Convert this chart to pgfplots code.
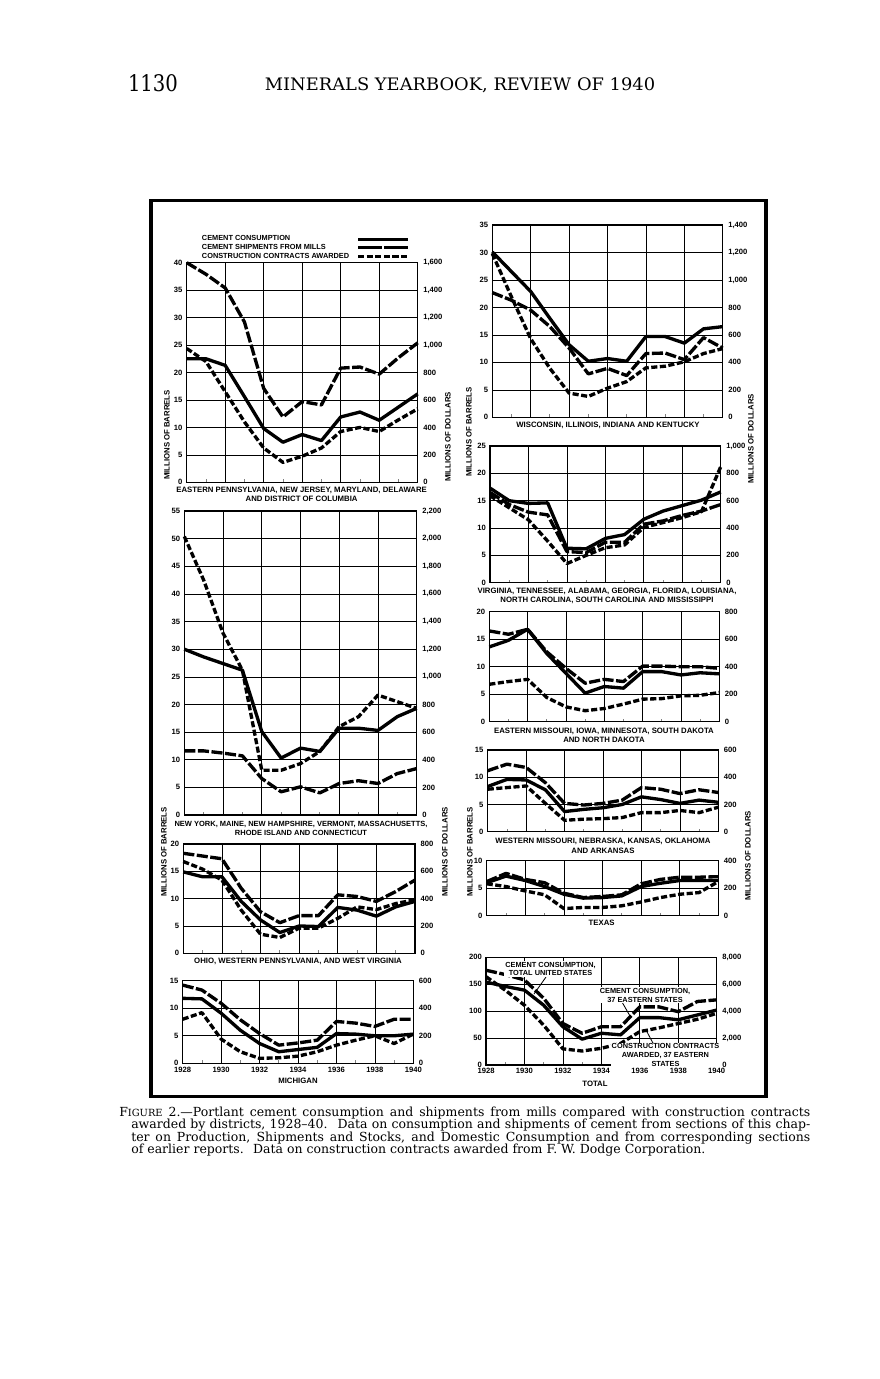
\documentclass[border=0pt]{standalone}
\usepackage{fontspec}
\setmainfont{DejaVu Serif}
\setsansfont{Liberation Sans}
\usepackage{graphicx}
\usepackage{pgfplots}
\usepackage{pgfplotstable}
\pgfplotsset{compat=1.18}

% chart lettering
\newcommand\cf{\sffamily\bfseries\fontsize{5.6}{6.5}\selectfont}
\newcommand\lf{\sffamily\bfseries\fontsize{5.3}{6.4}\selectfont}
\newcommand\tf{\sffamily\bfseries\fontsize{5.5}{5.5}\selectfont}

% year, cement consumption, shipments from mills (millions of barrels), contracts awarded (millions of dollars)
\pgfplotstableread{
year cons ship contr
1928 22.5 40.0 975
1929 22.5 37.9 880
1930 21.3 35.4 660
1931 15.6 29.2 440
1932 9.8 17.1 250
1933 7.3 11.9 145
1934 8.7 14.7 190
1935 7.6 14.1 250
1936 11.9 20.8 370
1937 12.8 21.0 400
1938 11.3 19.7 370
1939 13.7 22.7 455
1940 16.1 25.4 535
}\tEPA
\pgfplotstableread{
year cons ship contr
1928 30.0 11.6 2016
1929 28.6 11.6 1700
1930 27.4 11.2 1316
1931 26.2 10.7 1048
1932 15.1 6.6 324
1933 10.3 4.2 324
1934 12.1 5.1 372
1935 11.5 4.0 460
1936 15.7 5.7 640
1937 15.7 6.2 712
1938 15.3 5.7 868
1939 17.8 7.5 820
1940 19.3 8.4 772
}\tNY
\pgfplotstableread{
year cons ship contr
1928 14.9 18.3 672
1929 14.0 17.8 616
1930 14.0 17.3 536
1931 9.5 11.9 316
1932 6.1 7.6 140
1933 3.8 5.6 116
1934 5.0 6.9 184
1935 4.9 6.9 184
1936 8.4 10.7 256
1937 7.9 10.4 340
1938 6.8 9.5 320
1939 8.5 11.3 364
1940 9.5 13.4 392
}\tOH
\pgfplotstableread{
year cons ship contr
1928 11.8 14.2 320
1929 11.7 13.3 368
1930 9.1 10.9 176
1931 6.0 7.9 84
1932 3.6 5.4 36
1933 2.1 3.3 40
1934 2.5 3.7 52
1935 2.9 4.2 84
1936 5.4 7.6 132
1937 5.3 7.3 168
1938 5.0 6.7 200
1939 5.0 8.0 144
1940 5.3 8.0 212
}\tMI
\pgfplotstableread{
year cons ship contr
1928 30.1 22.7 1192
1929 26.5 21.3 876
1930 22.9 19.5 572
1931 18.0 16.5 356
1932 13.2 12.6 176
1933 10.2 7.9 152
1934 10.7 8.9 212
1935 10.2 7.6 260
1936 14.7 11.6 360
1937 14.7 11.7 372
1938 13.5 10.5 404
1939 16.1 14.5 464
1940 16.5 12.6 500
}\tWI
\pgfplotstableread{
year cons ship contr
1928 17.3 16.5 636
1929 15.0 14.3 548
1930 14.5 12.9 460
1931 14.6 12.4 304
1932 6.3 5.7 140
1933 6.2 5.5 200
1934 8.1 7.4 256
1935 8.8 7.4 276
1936 11.6 10.7 404
1937 13.1 11.3 440
1938 14.1 12.3 476
1939 15.1 13.1 520
1940 16.6 14.3 848
}\tVA
\pgfplotstableread{
year cons ship contr
1928 13.6 16.5 272
1929 14.8 15.9 292
1930 16.8 16.8 308
1931 12.4 12.7 176
1932 8.8 9.7 108
1933 5.2 7.0 80
1934 6.4 7.7 96
1935 6.1 7.3 128
1936 9.1 10.1 164
1937 9.1 10.1 168
1938 8.5 10.0 188
1939 8.9 10.0 192
1940 8.7 9.7 212
}\tEM
\pgfplotstableread{
year cons ship contr
1928 8.3 11.2 312
1929 9.6 12.4 324
1930 9.5 11.8 336
1931 7.7 9.0 208
1932 3.7 5.2 84
1933 4.1 4.9 92
1934 4.4 5.2 96
1935 5.0 5.8 104
1936 6.4 8.1 140
1937 5.9 7.8 140
1938 5.2 7.0 156
1939 5.8 7.7 140
1940 5.4 7.2 180
}\tWM
\pgfplotstableread{
year cons ship contr
1928 6.0 6.2 232
1929 7.2 7.7 212
1930 6.4 6.6 180
1931 5.3 6.0 152
1932 3.9 4.1 52
1933 3.2 3.3 60
1934 3.3 3.5 60
1935 3.6 3.8 72
1936 5.3 5.8 100
1937 5.9 6.6 132
1938 6.4 7.0 156
1939 6.4 7.0 168
1940 6.4 7.1 248
}\tTX
% total: cons = 37 eastern states, ship = total United States consumption
\pgfplotstableread{
year cons ship contr
1928 154 176 6560
1929 146 168 5560
1930 139 158 4440
1931 111 124 2960
1932 71 77 1200
1933 48 59 1040
1934 59 71 1240
1935 56 71 1600
1936 88 108 2480
1937 88 108 2760
1938 84 99 3080
1939 93 118 3400
1940 102 121 3840
}\tUS

\pgfplotsset{
  cons/.style={black, line width=2.4pt, line join=round},
  ship/.style={black, line width=2.4pt, line join=round, dash pattern=on 8pt off 1.8pt},
  contr/.style={black, line width=2.4pt, line join=round, dash pattern=on 4.4pt off 1.8pt},
  common/.style={scale only axis, anchor=north west, xmin=1928, xmax=1940, ymin=0,
    clip=false, scaled y ticks=false, tick label style={font=\tf},
    /pgf/number format/assume math mode=true, major tick length=0pt},
  panel/.style={common,
    xtick={1928,1930,...,1940}, minor xtick={1929,1931,...,1939}, xticklabels={},
    xmajorgrids, ymajorgrids, grid style={black, line width=0.45pt},
    axis line style={line width=0.8pt}, tick align=inside, tick pos=left,
    minor tick length=2.2pt, minor tick style={line width=0.6pt},
    yticklabel style={xshift=0.5pt}},
  rpanel/.style={common, hide x axis, axis y line*=right,
    axis line style={line width=0.8pt}, yticklabel style={xshift=0.5pt}},
  years/.style={xticklabels={1928,1930,1932,1934,1936,1938,1940},
    xticklabel style={font=\tf, yshift=1pt}}
}

% #1 table, #2-#5 left, top, right, bottom (px), #6 ymax, #7 ystep, #8 extra options
\newcommand\panel[8]{%
  \pgfmathsetmacro\ax{#2*0.72}%
  \pgfmathsetmacro\ay{-#3*0.72}%
  \pgfmathsetmacro\pw{(#4-#2)*0.72}%
  \pgfmathsetmacro\ph{(#5-#3)*0.72}%
  \pgfmathsetmacro\rmax{40*#6}%
  \pgfmathsetmacro\rstep{40*#7}%
  \begin{axis}[panel, at={(\ax pt,\ay pt)}, width=\pw pt, height=\ph pt,
      ymax=#6, ytick distance=#7, #8]
    \addplot[cons] table[x=year, y=cons] {#1};
    \addplot[ship] table[x=year, y=ship] {#1};
  \end{axis}
  \begin{axis}[rpanel, at={(\ax pt,\ay pt)}, width=\pw pt, height=\ph pt,
      ymax=\rmax, ytick distance=\rstep]
    \addplot[contr] table[x=year, y=contr] {#1};
  \end{axis}}

\begin{document}
\begin{tikzpicture}[x=0.72pt, y=-0.72pt]
\fill[white] (0,0) rectangle (879,1379);
\path[use as bounding box] (0,0) rectangle (879,1379);

% page head
\node[anchor=base, inner sep=0] at (153,92) {\resizebox{36pt}{12.2pt}{1130}};
\node[anchor=base, inner sep=0] at (460,91) {\resizebox{281pt}{9.2pt}{MINERALS YEARBOOK, REVIEW OF 1940}};

% frame
\draw[line width=2.5pt] (151,200.5) rectangle (766,1096.5);

% left column
\panel{\tEPA}{186.7}{262.7}{417.7}{482.3}{40}{5}{}
\panel{\tNY}{184.3}{511}{416.7}{815}{55}{5}{}
\panel{\tOH}{183.3}{844}{415}{953.3}{20}{5}{}
\panel{\tMI}{182.7}{980.7}{413.3}{1063.3}{15}{5}{years}
% right column
\panel{\tWI}{492.3}{225}{722.7}{417.3}{35}{5}{}
\panel{\tVA}{490}{446}{720.7}{582.7}{25}{5}{}
\panel{\tEM}{489.3}{611.7}{719.3}{721.7}{20}{5}{}
\panel{\tWM}{487.7}{750}{718.3}{831.7}{15}{5}{}
\panel{\tTX}{486.7}{860.7}{718.3}{915.7}{10}{5}{}
\panel{\tUS}{486}{957.3}{716.7}{1065}{200}{50}{years}

% legend
\node[font=\lf, anchor=west, inner sep=0] at (201.7,237.7) {CEMENT CONSUMPTION};
\node[font=\lf, anchor=west, inner sep=0] at (201.7,246.7) {CEMENT SHIPMENTS FROM MILLS};
\node[font=\lf, anchor=west, inner sep=0] at (201.7,256) {CONSTRUCTION CONTRACTS AWARDED};
\draw[line width=2.4pt] (358,239.3) -- (408,239.3);
\draw[line width=2.4pt, dash pattern=on 17pt off 1.8pt] (358,247.7) -- (408,247.7);
\draw[line width=2.4pt, dash pattern=on 4.4pt off 1.8pt] (358,256.7) -- (408,256.7);

% district names
\node[font=\cf, align=center] at (301.6,494.5) {EASTERN PENNSYLVANIA, NEW JERSEY, MARYLAND, DELAWARE\\AND DISTRICT OF COLUMBIA};
\node[font=\sffamily\bfseries\fontsize{5.4}{6.5}\selectfont, align=center] at (301,828) {NEW YORK, MAINE, NEW HAMPSHIRE, VERMONT, MASSACHUSETTS,\\RHODE ISLAND AND CONNECTICUT};
\node[font=\cf] at (298,961.7) {OHIO, WESTERN PENNSYLVANIA, AND WEST VIRGINIA};
\node[font=\cf] at (298,1080.7) {MICHIGAN};
\node[font=\cf] at (608,425.7) {WISCONSIN, ILLINOIS, INDIANA AND KENTUCKY};
\node[font=\cf, align=center] at (607,596) {VIRGINIA, TENNESSEE, ALABAMA, GEORGIA, FLORIDA, LOUISIANA,\\NORTH CAROLINA, SOUTH CAROLINA AND MISSISSIPPI};
\node[font=\cf, align=center] at (604,735.3) {EASTERN MISSOURI, IOWA, MINNESOTA, SOUTH DAKOTA\\AND NORTH DAKOTA};
\node[font=\cf, align=center] at (603,845.8) {WESTERN MISSOURI, NEBRASKA, KANSAS, OKLAHOMA\\AND ARKANSAS};
\node[font=\cf] at (601.7,923.3) {TEXAS};
\node[font=\cf] at (595,1084.3) {TOTAL};

% scale names
\node[font=\cf, rotate=90] at (167,435) {MILLIONS OF BARRELS};
\node[font=\cf, rotate=90] at (448,437) {MILLIONS OF DOLLARS};
\node[font=\cf, rotate=90] at (164,852) {MILLIONS OF BARRELS};
\node[font=\cf, rotate=90] at (445,852) {MILLIONS OF DOLLARS};
\node[font=\cf, rotate=90] at (469,432) {MILLIONS OF BARRELS};
\node[font=\cf, rotate=90] at (751,439) {MILLIONS OF DOLLARS};
\node[font=\cf, rotate=90] at (470,852) {MILLIONS OF BARRELS};
\node[font=\cf, rotate=90] at (748,856) {MILLIONS OF DOLLARS};

% notes on the total panel
\draw[line width=0.6pt] (546,977) -- (534,994);
\node[font=\lf, align=center, fill=white, inner sep=0.6pt] at (550.5,969) {CEMENT CONSUMPTION,\\TOTAL UNITED STATES};
\draw[line width=0.6pt] (622,1002) -- (630,1016);
\node[font=\lf, align=center, fill=white, inner sep=0.6pt] at (645,995.3) {CEMENT CONSUMPTION,\\37 EASTERN STATES};
\draw[line width=0.6pt] (654,1045) -- (646,1030);
\node[font=\lf, align=center, fill=white, inner sep=0.6pt] at (665.5,1055) {CONSTRUCTION CONTRACTS\\AWARDED, 37 EASTERN\\STATES};

% caption
\begin{scope}[every node/.style={anchor=base west, inner sep=0, font=\fontsize{9}{9}\selectfont}]
\node at (119,1116) {\makebox[497.5pt][s]{F{\fontsize{7.1}{7}\selectfont IGURE} 2.—Portlant cement consumption and shipments from mills compared with construction contracts}};
\node at (131,1128.5) {\makebox[488.9pt][s]{awarded by districts, 1928–40. \ Data on consumption and shipments of cement from sections of this chap-}};
\node at (131,1141) {\makebox[488.9pt][s]{ter on Production, Shipments and Stocks, and Domestic Consumption and from corresponding sections}};
\node at (131,1153.5) {of earlier reports. \ Data on construction contracts awarded from F. W. Dodge Corporation.};
\end{scope}
\end{tikzpicture}
\end{document}
